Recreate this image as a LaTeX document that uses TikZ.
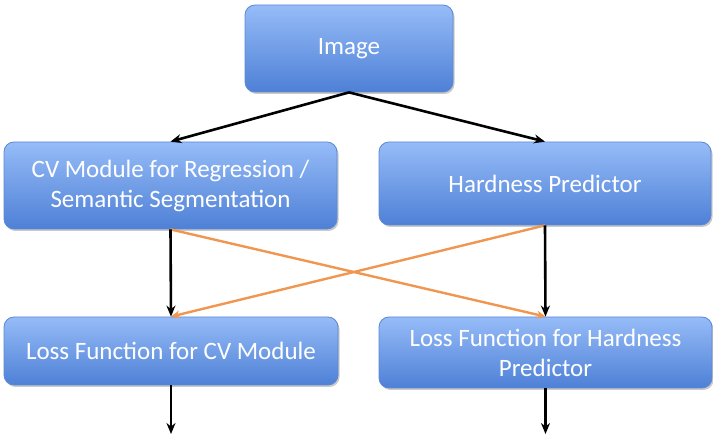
\documentclass[tikz,border=0pt]{standalone}
\usepackage{fontspec}
\setmainfont{Carlito}
\usepackage{xcolor}
\definecolor{boxtop}{RGB}{150,188,248}
\definecolor{boxbot}{RGB}{78,128,214}
\definecolor{boxline}{RGB}{92,136,212}
\definecolor{crossorange}{RGB}{240,150,80}
\usetikzlibrary{arrows.meta,positioning,shadows}

\begin{document}
\begin{tikzpicture}[
  x=1pt,y=-1pt,
  every node/.style={font=\fontsize{25}{30}\selectfont},
  flowbox/.style={draw=boxline,line width=0.8pt,rounded corners=10pt,
                  top color=boxtop,bottom color=boxbot,text=white,align=center,
                  inner sep=2pt,
                  drop shadow={shadow xshift=1.5pt,shadow yshift=-2pt,opacity=0.35,fill=black!60}},
  arr/.style={-{Stealth[length=11pt,width=9pt]},line width=2.6pt,black},
  crossarr/.style={-{Stealth[length=9pt,width=8pt]},line width=2.4pt,crossorange},
]
  \useasboundingbox (0,0) rectangle (713,438);

  % Input
  \node[flowbox,minimum width=208pt,minimum height=87pt] (img) at (349,48.5) {Image};

  % Networks
  \node[flowbox,minimum width=333pt,minimum height=87pt] (cv) at (170.5,185.5)
    {CV Module for Regression /\\Semantic Segmentation};
  \node[flowbox,minimum width=332pt,minimum height=83pt] (hp) at (545,183.5)
    {Hardness Predictor};

  % Losses
  \node[flowbox,minimum width=334pt,minimum height=68pt] (losscv) at (171,351)
    {Loss Function for CV Module};
  \node[flowbox,minimum width=333pt,minimum height=71pt] (losshp) at (545.5,352.5)
    {Loss Function for Hardness\\Predictor};

  % Outputs
  \coordinate (outcv) at (171,434);
  \coordinate (outhp) at (545.5,434);

  % Arrows
  \draw[arr] (img.south) -- (cv.north);
  \draw[arr] (img.south) -- (hp.north);
  \draw[crossarr] (cv.south) -- (losshp.north);
  \draw[crossarr] (hp.south) -- (losscv.north);
  \draw[arr] (cv.south) -- (losscv.north);
  \draw[arr] (hp.south) -- (losshp.north);
  \draw[arr] (losscv.south) -- (outcv);
  \draw[arr] (losshp.south) -- (outhp);
\end{tikzpicture}
\end{document}
